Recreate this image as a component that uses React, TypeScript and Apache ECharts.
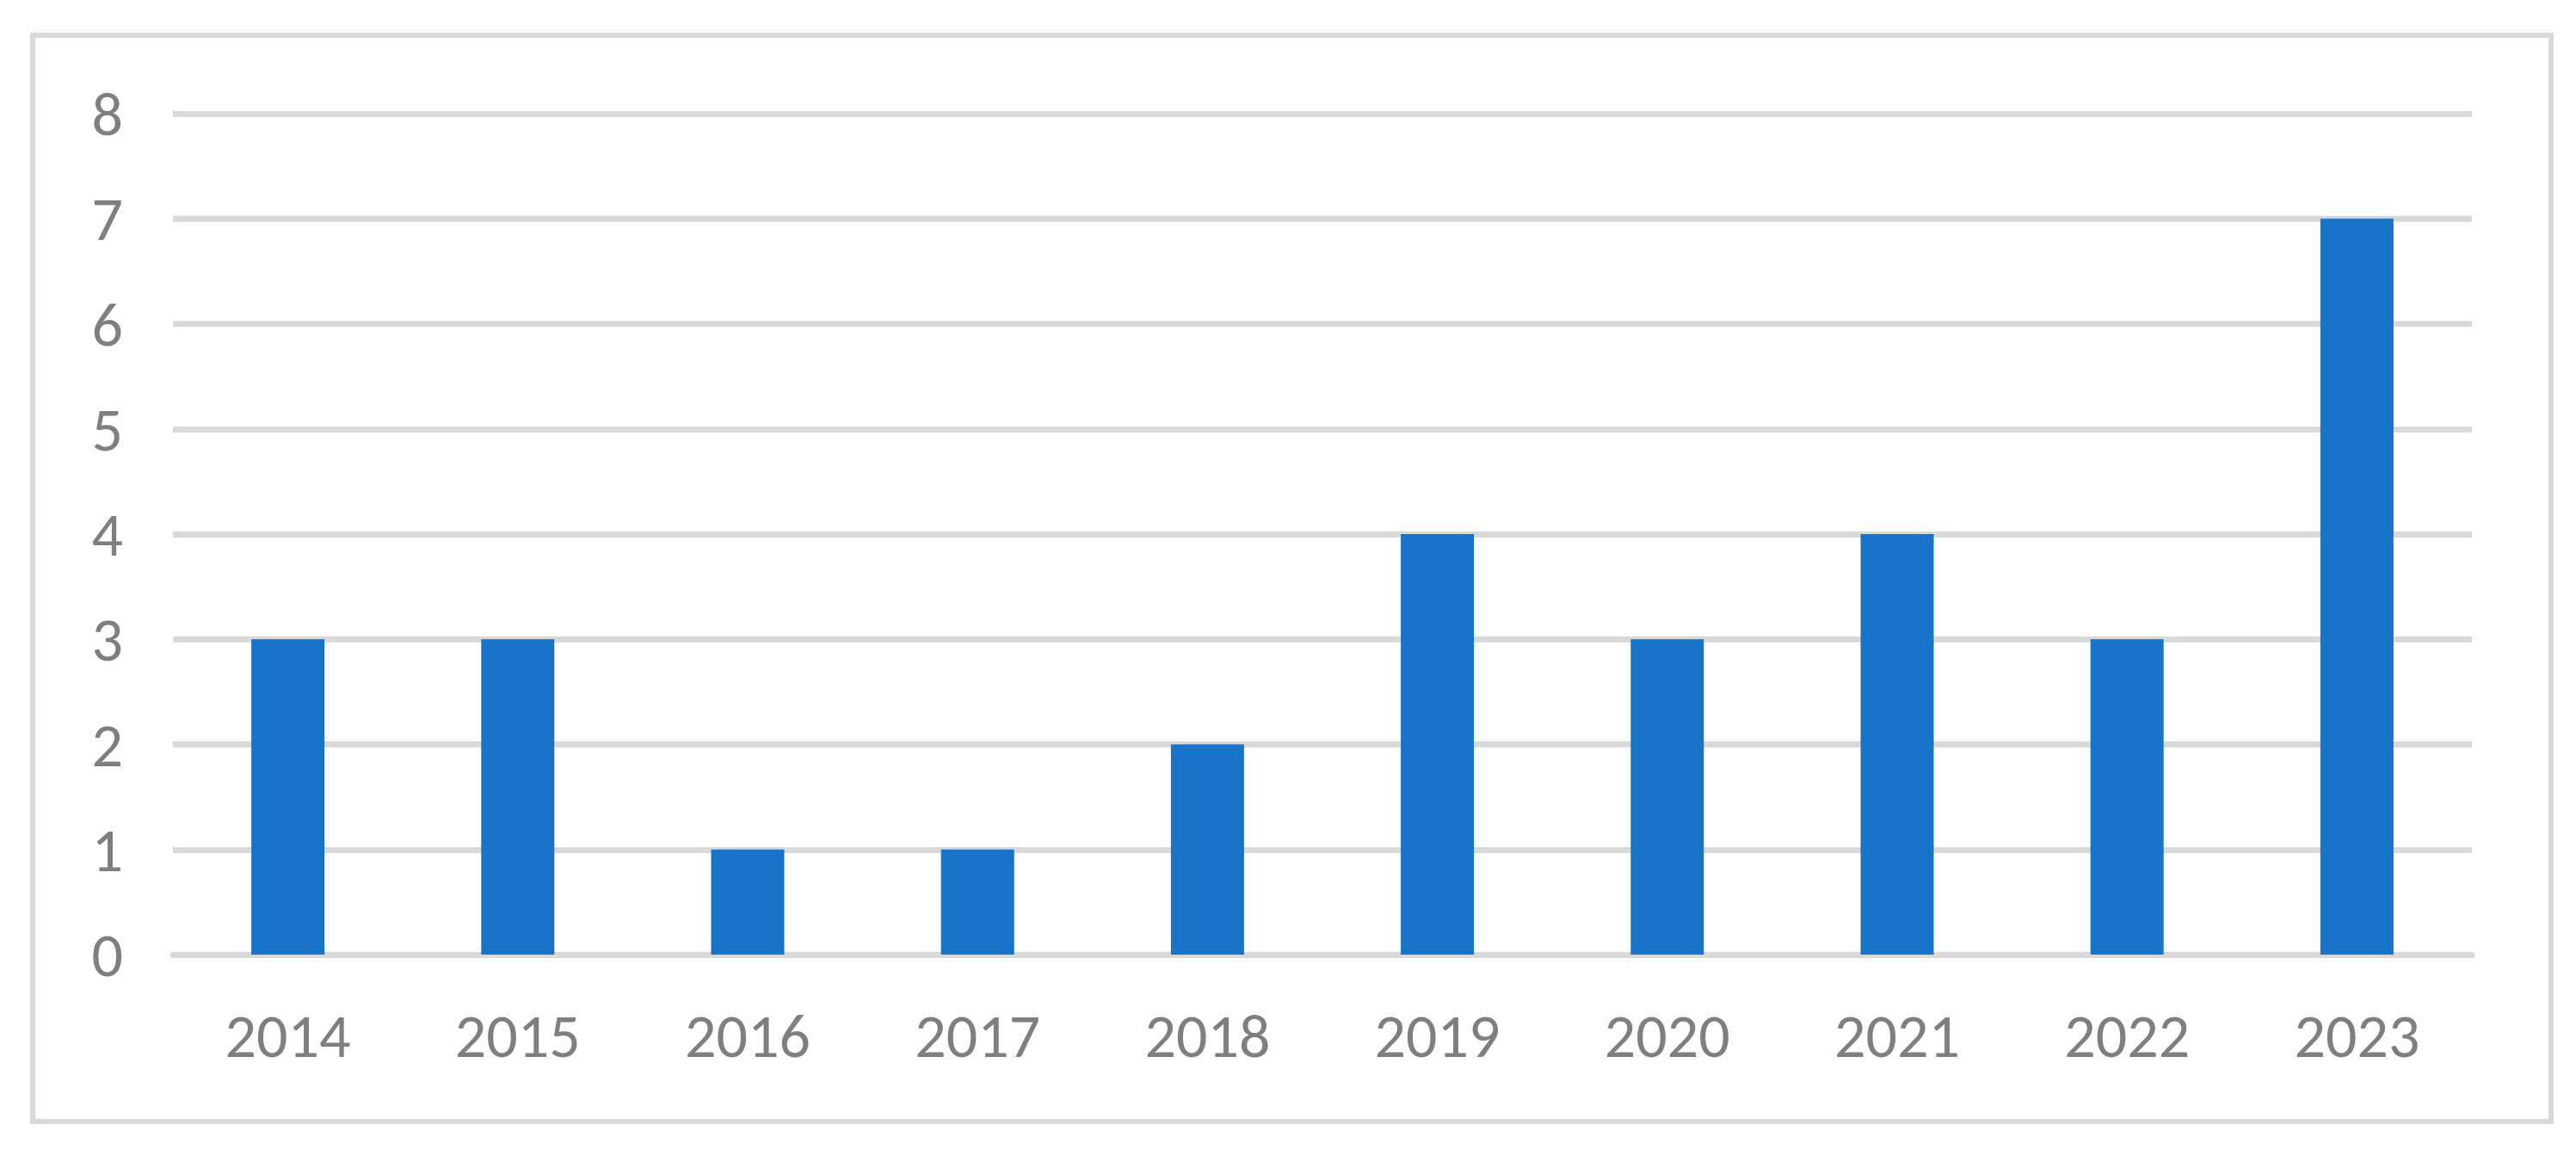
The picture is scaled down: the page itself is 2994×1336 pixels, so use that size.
import React, { useEffect, useRef } from "react";
import * as echarts from "echarts";

const categories = ["2014", "2015", "2016", "2017", "2018", "2019", "2020", "2021", "2022", "2023"];
const values = [3, 3, 1, 1, 2, 4, 3, 4, 3, 7];
const yTicks = ["0", "1", "2", "3", "4", "5", "6", "7", "8"];

const W = 2994;
const H = 1336;
const FONT = "Carlito, Calibri, Lato, sans-serif";

export default function App() {
  const ref = useRef<HTMLDivElement>(null);
  useEffect(() => {
    document.body.style.margin = "0";
    if (!ref.current) return;
    const chart = echarts.init(ref.current, null, { renderer: "svg" });
    chart.setOption({
      animation: false,
      backgroundColor: "#ffffff",
      graphic: [
        {
          type: "rect",
          shape: { x: 38, y: 41, width: 2927, height: 1263 },
          style: { fill: "none", stroke: "#d9d9d9", lineWidth: 6 },
          silent: true,
          z: 0,
        },
      ],
      grid: {
        left: 201,
        right: 121,
        top: 132,
        bottom: 226,
        containLabel: false,
        outerBoundsMode: "none",
      },
      xAxis: {
        type: "category",
        data: categories,
        axisLine: { show: true, lineStyle: { color: "#d9d9d9", width: 7 } },
        axisTick: { show: false },
        axisLabel: { color: "#7f7f7f", fontSize: 72, fontFamily: FONT, margin: 58 },
        splitLine: { show: false },
      },
      yAxis: {
        type: "value",
        min: 0,
        max: 8,
        interval: 1,
        axisLine: { show: false },
        axisTick: { show: false },
        axisLabel: {
          color: "#7f7f7f",
          fontSize: 72,
          fontFamily: FONT,
          margin: 58,
          align: "right",
          formatter: (v: number) => yTicks[Math.round(v)] ?? String(v),
        },
        splitLine: { show: true, lineStyle: { color: "#d9d9d9", width: 7 } },
      },
      series: [
        {
          type: "bar",
          data: values,
          barWidth: 85,
          itemStyle: { color: "#1874c9" },
          z: 3,
        },
      ],
    });
    return () => chart.dispose();
  }, []);
  return <div ref={ref} style={{ width: W, height: H }} />;
}
